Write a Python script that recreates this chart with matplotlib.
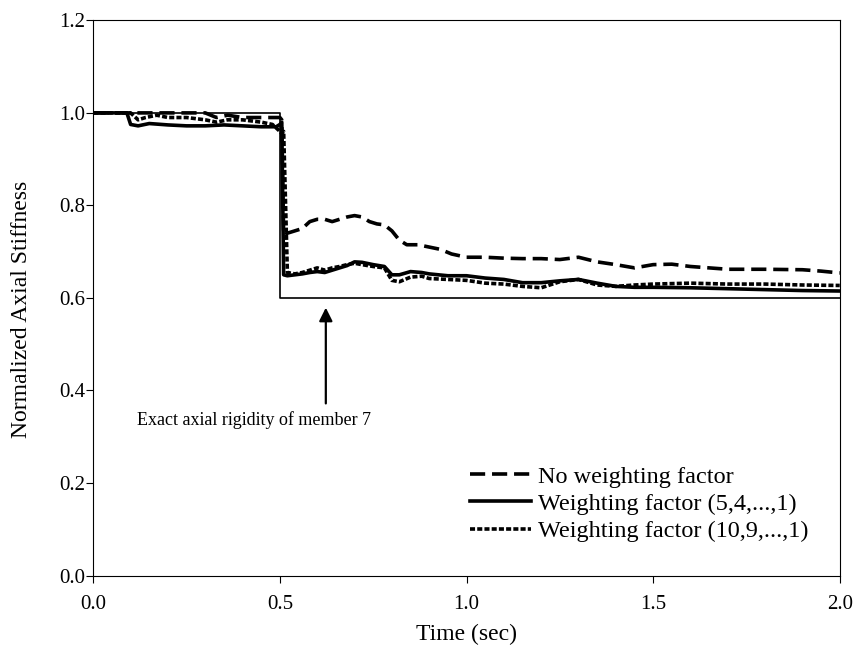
import matplotlib
matplotlib.use("Agg")
import matplotlib.pyplot as plt

plt.rcParams["font.family"] = ["Liberation Serif", "DejaVu Serif"]

# exact stiffness of member 7
t_exact = [0.0, 0.5, 0.5, 2.0]
v_exact = [1.0, 1.0, 0.6, 0.6]

# no weighting factor
t_none = [0, 0.30, 0.33, 0.36, 0.40, 0.45, 0.50, 0.505, 0.51, 0.52, 0.54, 0.56,
          0.58, 0.60, 0.62, 0.64, 0.66, 0.68, 0.70, 0.72, 0.74, 0.76, 0.78, 0.80,
          0.82, 0.84, 0.87, 0.90, 0.93, 0.96, 1.00, 1.05, 1.10, 1.15, 1.20, 1.25,
          1.30, 1.35, 1.40, 1.45, 1.50, 1.55, 1.60, 1.65, 1.70, 1.80, 1.90, 1.95, 2.00]
v_none = [1.0, 1.0, 0.99, 0.995, 0.99, 0.99, 0.99, 0.985, 0.735, 0.74, 0.745, 0.75,
          0.765, 0.77, 0.77, 0.765, 0.77, 0.775, 0.778, 0.775, 0.765, 0.76, 0.758, 0.745,
          0.725, 0.715, 0.715, 0.71, 0.705, 0.695, 0.688, 0.688, 0.686, 0.685, 0.685, 0.683,
          0.688, 0.678, 0.672, 0.665, 0.672, 0.673, 0.668, 0.665, 0.662, 0.662, 0.661, 0.658, 0.654]

# weighting factor (5,4,...,1)
t_w5 = [0, 0.09, 0.10, 0.12, 0.15, 0.20, 0.25, 0.30, 0.35, 0.40, 0.45, 0.49, 0.50,
        0.505, 0.51, 0.52, 0.54, 0.56, 0.58, 0.60, 0.62, 0.64, 0.66, 0.68, 0.70, 0.72,
        0.75, 0.78, 0.80, 0.82, 0.85, 0.88, 0.90, 0.95, 1.00, 1.05, 1.10, 1.15, 1.20,
        1.25, 1.30, 1.35, 1.40, 1.45, 1.50, 1.60, 1.70, 1.80, 1.90, 2.00]
v_w5 = [1.0, 1.0, 0.975, 0.972, 0.977, 0.974, 0.972, 0.972, 0.974, 0.972, 0.97, 0.97, 0.975,
        0.98, 0.65, 0.648, 0.65, 0.652, 0.655, 0.657, 0.655, 0.66, 0.665, 0.67, 0.678, 0.677,
        0.672, 0.668, 0.65, 0.65, 0.657, 0.655, 0.652, 0.648, 0.648, 0.643, 0.64, 0.633, 0.633,
        0.637, 0.64, 0.632, 0.625, 0.623, 0.623, 0.622, 0.62, 0.618, 0.616, 0.615]

# weighting factor (10,9,...,1)
t_w10 = [0, 0.10, 0.12, 0.14, 0.17, 0.20, 0.25, 0.30, 0.33, 0.36, 0.40, 0.45, 0.48,
         0.50, 0.505, 0.51, 0.52, 0.54, 0.56, 0.58, 0.60, 0.62, 0.64, 0.66, 0.68, 0.70,
         0.72, 0.75, 0.78, 0.80, 0.82, 0.85, 0.88, 0.90, 0.95, 1.00, 1.05, 1.10, 1.15,
         1.20, 1.25, 1.30, 1.35, 1.40, 1.45, 1.50, 1.60, 1.70, 1.80, 1.90, 2.00]
v_w10 = [1.0, 1.0, 0.985, 0.99, 0.995, 0.99, 0.99, 0.985, 0.98, 0.985, 0.985, 0.98, 0.975,
         0.96, 0.955, 0.96, 0.655, 0.652, 0.655, 0.66, 0.665, 0.66, 0.665, 0.668, 0.672, 0.675,
         0.672, 0.668, 0.665, 0.638, 0.635, 0.645, 0.647, 0.642, 0.64, 0.638, 0.632, 0.63, 0.625,
         0.622, 0.635, 0.64, 0.628, 0.625, 0.628, 0.63, 0.632, 0.63, 0.63, 0.628, 0.627]

x_ticks = [0.0, 0.5, 1.0, 1.5, 2.0]
y_ticks = [0.0, 0.2, 0.4, 0.6, 0.8, 1.0, 1.2]

fig = plt.figure(figsize=(8.56, 6.57), dpi=100)
ax = fig.add_axes([0.109, 0.124, 0.872, 0.845])

ax.plot(t_exact, v_exact, color="black", lw=1.2)
ax.plot(t_none, v_none, color="black", lw=2.6, dashes=(4.2, 1.9), label="No weighting factor")
ax.plot(t_w5, v_w5, color="black", lw=2.6, label="Weighting factor (5,4,...,1)")
ax.plot(t_w10, v_w10, color="black", lw=2.6, dashes=(1.4, 0.6), label="Weighting factor (10,9,...,1)")

ax.annotate("", xy=(0.623, 0.585), xytext=(0.623, 0.366),
            arrowprops=dict(arrowstyle="-|>", color="black", lw=1.6, mutation_scale=20))
ax.text(0.118, 0.337, "Exact axial rigidity of member 7", fontsize=13, va="center", ha="left")

ax.set_xlim(0, 2.0)
ax.set_ylim(0, 1.2)
ax.set_xticks(x_ticks)
ax.set_yticks(y_ticks)
ax.set_xticklabels([f"{v:.1f}" for v in x_ticks])
ax.set_yticklabels([f"{v:.1f}" for v in y_ticks])
ax.tick_params(direction="out", length=5, width=0.8, labelsize=15)
ax.tick_params(axis="x", pad=9)
ax.tick_params(axis="y", pad=1)
ax.set_xlabel("Time (sec)", fontsize=17)
ax.set_ylabel("Normalized Axial Stiffness", fontsize=17)
ax.xaxis.set_label_coords(0.5, -0.087)
ax.yaxis.set_label_coords(-0.082, 0.48)
for s in ax.spines.values():
    s.set_linewidth(0.8)

ax.legend(loc="upper left", bbox_to_anchor=(0.505, 0.198), frameon=False, fontsize=17.5,
          handlelength=2.5, handletextpad=0.3, labelspacing=0.22, borderaxespad=0.0,
          borderpad=0.0)

fig.savefig("out.png", dpi=100)
